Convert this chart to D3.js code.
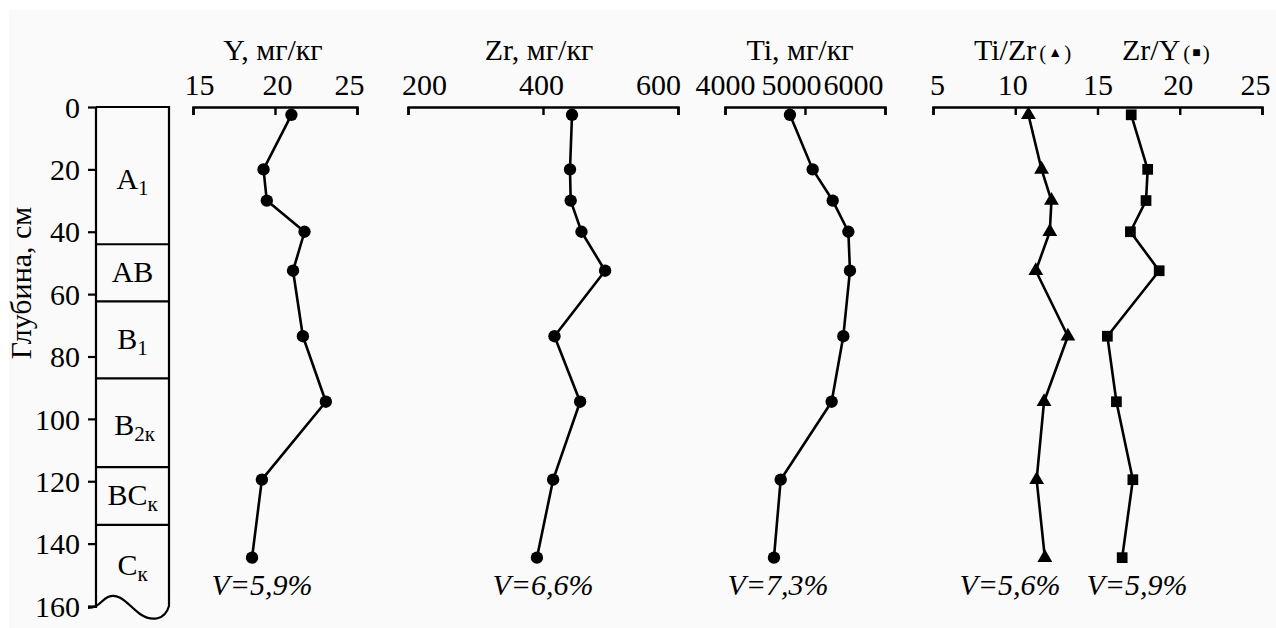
<!DOCTYPE html>
<html>
<head>
<meta charset="utf-8">
<script src="https://cdn.jsdelivr.net/npm/d3@7"></script>
<style>
  html, body { margin: 0; padding: 0; background: #ffffff; }
  svg { display: block; }
  text { font-family: "Liberation Serif", "Times New Roman", serif; fill: #000; }
</style>
</head>
<body>
<svg id="chart" width="1276" height="628"></svg>
<script>
// ---------- data ----------
const depths      = [2.5, 20, 30, 40, 52.5, 73.5, 94.5, 119.5, 144.5];
const yValues     = [21.0, 19.3, 19.5, 21.8, 21.1, 21.7, 23.1, 19.2, 18.6];
const zrValues    = [443, 440, 441, 457, 492, 417, 455, 415, 391];
const tiValues    = [4812, 5096, 5346, 5542, 5562, 5479, 5333, 4696, 4612];
const tiZrValues  = [10.8, 11.6, 12.2, 12.1, 11.25, 13.2, 11.75, 11.3, 11.8];
const zrYValues   = [17.05, 18.05, 17.95, 17.0, 18.75, 15.6, 16.15, 17.15, 16.5];

const depthTicks  = [0, 20, 40, 60, 80, 100, 120, 140, 160];
const yTicks      = [15, 20, 25];
const zrTicks     = [200, 400, 600];
const tiTicks     = [4000, 5000, 6000];
const ratioTicks  = [5, 10, 15, 20, 25];

const horizonBounds = [0, 44, 62.3, 87, 115.5, 134];
const horizonLabels = [
  {main: "A", sub: "1", depth: 23},
  {main: "AB", sub: "", depth: 53},
  {main: "B", sub: "1", depth: 74.5},
  {main: "B", sub: "2к", depth: 102},
  {main: "BC", sub: "к", depth: 124.5},
  {main: "C", sub: "к", depth: 147}
];
const vLabels = ["V=5,9%", "V=6,6%", "V=7,3%", "V=5,6%", "V=5,9%"];

// ---------- layout ----------
const svg = d3.select("#chart");
svg.append("rect").attr("x", 9).attr("y", 10).attr("width", 1267).attr("height", 618).attr("fill", "#fafafa");

const yScale = d3.scaleLinear().domain([0, 160]).range([107, 606]);
const axisY0 = 107;
const FS = 30;

// depth axis
const colL = 96, colR = 169;
const gDepth = svg.append("g").attr("transform", `translate(${colL},0)`)
  .call(d3.axisLeft(yScale).tickValues(depthTicks).tickSize(8).tickSizeOuter(0).tickPadding(8));
gDepth.select(".domain").remove();
gDepth.selectAll(".tick line").attr("stroke", "#000").attr("stroke-width", 2.2);
gDepth.selectAll(".tick text").attr("font-size", FS).attr("dy", "0.34em");

svg.append("text")
  .attr("transform", `translate(31,${283}) rotate(-90)`)
  .attr("text-anchor", "middle")
  .attr("font-size", FS)
  .text("Глубина, см");

// soil column
const colBottomL = 608, colBottomR = 606;
const colG = svg.append("g").attr("fill", "none").attr("stroke", "#000").attr("stroke-width", 2.2);
colG.append("path").attr("d",
  `M${colL},${yScale(0)} H${colR} V${colBottomR}` +
  ` C${colR - 4},${620} ${152},${622} ${140},${614}` +
  ` C${128},${605} ${120},${592} ${108},${597}` +
  ` C${101},${600} ${99},${608} ${colL - 8},${608}` +
  ` M${colL},${colBottomL} V${yScale(0)}`);
horizonBounds.slice(1).forEach(b => {
  colG.append("line").attr("x1", colL).attr("x2", colR).attr("y1", yScale(b)).attr("y2", yScale(b));
});
const colMid = (colL + colR) / 2;
horizonLabels.forEach(h => {
  const t = svg.append("text").attr("x", colMid + (h.sub === "2к" ? 2 : 0)).attr("y", yScale(h.depth) + 10)
    .attr("text-anchor", "middle").attr("font-size", FS);
  t.append("tspan").text(h.main);
  if (h.sub) t.append("tspan").attr("font-size", 21).attr("dy", 6).text(h.sub);
});

// panels
function drawAxis(domain, range, ticks, dxs) {
  const x = d3.scaleLinear().domain(domain).range(range);
  const g = svg.append("g").attr("transform", `translate(0,${axisY0})`)
    .call(d3.axisTop(x).tickValues(ticks).tickSizeInner(-8).tickSizeOuter(-8).tickPadding(12).tickFormat(d3.format("d")));
  g.select(".domain").attr("stroke", "#000").attr("stroke-width", 2.4);
  g.selectAll(".tick line").attr("stroke", "#000").attr("stroke-width", 2.4);
  g.selectAll(".tick text").attr("font-size", FS).attr("text-anchor", "middle")
    .attr("dx", (d, i) => dxs[i]);
  return x;
}
function drawSeries(x, values, symbolType, size) {
  const pts = values.map((v, i) => [x(v), yScale(depths[i])]);
  svg.append("path").attr("d", d3.line()(pts)).attr("fill", "none")
    .attr("stroke", "#000").attr("stroke-width", 2.6).attr("stroke-linejoin", "round");
  svg.append("g").selectAll("path").data(pts).join("path")
    .attr("transform", d => `translate(${d[0]},${d[1]})`)
    .attr("d", d3.symbol().type(symbolType).size(size)())
    .attr("fill", "#000");
}
function title(x, txt) {
  svg.append("text").attr("x", x).attr("y", 60).attr("text-anchor", "middle").attr("font-size", FS).text(txt);
}

const xY = drawAxis([15, 25], [193, 357], yTicks, [6, 2, -8]);
drawSeries(xY, yValues, d3.symbolCircle, 120);
title(273, "Y, мг/кг");

const xZr = drawAxis([200, 600], [408, 678], zrTicks, [16, -2, -20]);
drawSeries(xZr, zrValues, d3.symbolCircle, 120);
title(539, "Zr, мг/кг");

const xTi = drawAxis([4000, 6000], [725, 885], tiTicks, [0, -14, -32]);
drawSeries(xTi, tiValues, d3.symbolCircle, 120);
title(800, "Ti, мг/кг");

const xR = drawAxis([5, 25], [933, 1262], ratioTicks, [4, -3, 0, -2, -7]);
drawSeries(xR, tiZrValues, d3.symbolTriangle, 95);
drawSeries(xR, zrYValues, d3.symbolSquare, 115);

function ratioTitle(x, main, sym) {
  const t = svg.append("text").attr("x", x).attr("y", 60).attr("font-size", FS);
  t.append("tspan").text(main);
  t.append("tspan").attr("font-size", 21).attr("dx", 3).text("(");
  t.append("tspan").attr("font-size", 14).attr("dx", 2).attr("dy", -3).text(sym);
  t.append("tspan").attr("font-size", 21).attr("dx", 2).attr("dy", 3).text(")");
}
ratioTitle(974, "Ti/Zr", "▲");
ratioTitle(1122, "Zr/Y", "■");

// variation coefficients
const vX = [262, 543, 778, 1010, 1137];
vLabels.forEach((s, i) => {
  svg.append("text").attr("x", vX[i]).attr("y", 595).attr("text-anchor", "middle")
    .attr("font-size", FS).attr("font-style", "italic").text(s);
});
</script>
</body>
</html>
